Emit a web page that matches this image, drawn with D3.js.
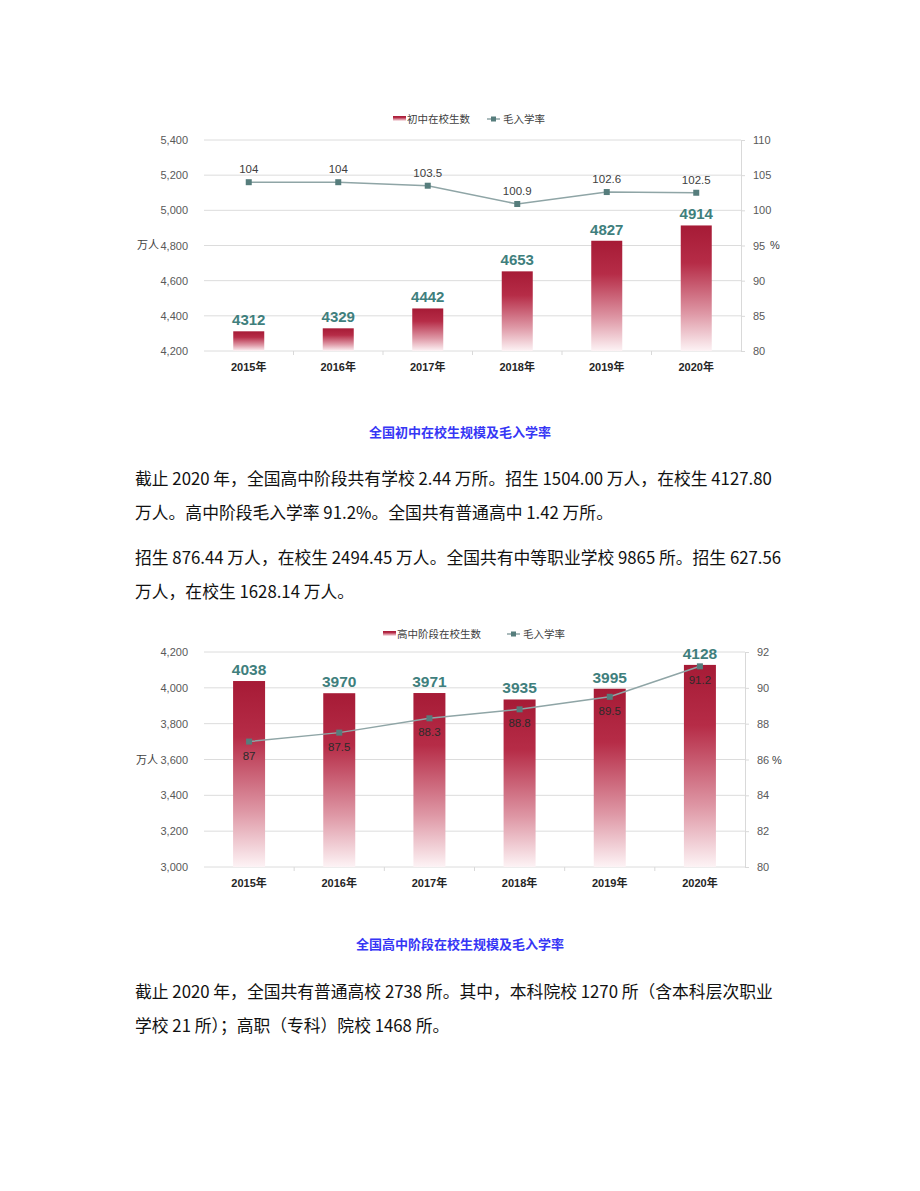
<!DOCTYPE html>
<html><head><meta charset="utf-8">
<script src="https://cdn.jsdelivr.net/npm/d3@7"></script>
<style>
html,body{margin:0;padding:0;background:#fff;}
svg{display:block;}
</style></head>
<body>
<svg id="page" width="920" height="1191"></svg>
<script>
const years = ['2015年','2016年','2017年','2018年','2019年','2020年'];
const juniorEnroll = [4312,4329,4442,4653,4827,4914];
const juniorRate = [104,104,103.5,100.9,102.6,102.5];
const seniorEnroll = [4038,3970,3971,3935,3995,4128];
const seniorRate = [87,87.5,88.3,88.8,89.5,91.2];
const leftTicks1 = [4200,4400,4600,4800,5000,5200,5400];
const rightTicks1 = [80,85,90,95,100,105,110];
const leftTicks2 = [3000,3200,3400,3600,3800,4000,4200];
const rightTicks2 = [80,82,84,86,88,90,92];
const legend1 = ['初中在校生数','毛入学率'];
const legend2 = ['高中阶段在校生数','毛入学率'];
const captions = ['全国初中在校生规模及毛入学率','全国高中阶段在校生规模及毛入学率'];
const para1 = ['截止 2020 年，全国高中阶段共有学校 2.44 万所。招生 1504.00 万人，在校生 4127.80','万人。高中阶段毛入学率 91.2%。全国共有普通高中 1.42 万所。'];
const para2 = ['招生 876.44 万人，在校生 2494.45 万人。全国共有中等职业学校 9865 所。招生 627.56','万人，在校生 1628.14 万人。'];
const para3 = ['截止 2020 年，全国共有普通高校 2738 所。其中，本科院校 1270 所（含本科层次职业','学校 21 所）；高职（专科）院校 1468 所。'];

const svg = d3.select('#page');
const FONT = 'Arial, "Liberation Sans", "Noto Sans CJK SC", sans-serif';
const CJK = '"Noto Sans CJK SC", sans-serif';

const defs = svg.append('defs');
const grad = defs.append('linearGradient').attr('id','barGrad').attr('x1',0).attr('y1',0).attr('x2',0).attr('y2',1);
grad.append('stop').attr('offset',0).attr('stop-color','#a61b36');
grad.append('stop').attr('offset',0.3).attr('stop-color','#b62c47');
grad.append('stop').attr('offset',0.7).attr('stop-color','#de97a5');
grad.append('stop').attr('offset',1).attr('stop-color','#fdf3f5');

function chart(o){
  const g = svg.append('g');
  const x = d3.scaleBand().domain(o.cats).range([o.x0,o.x1]);
  const yL = d3.scaleLinear().domain([o.lt[0],o.lt[o.lt.length-1]]).range([o.y1,o.y0]);
  const yR = d3.scaleLinear().domain([o.rt[0],o.rt[o.rt.length-1]]).range([o.y1,o.y0]);
  g.append('g').selectAll('line').data(o.lt).join('line')
    .attr('x1',o.x0).attr('x2',o.x1).attr('y1',d=>yL(d)).attr('y2',d=>yL(d))
    .attr('stroke','#dcdcdc').attr('stroke-width',1);
  const la = g.append('g').attr('transform',`translate(${o.lx},0)`)
    .call(d3.axisLeft(yL).tickValues(o.lt).tickSize(0).tickPadding(0).tickFormat(d3.format(',')));
  la.select('.domain').remove();
  la.selectAll('text').attr('font-family',FONT).attr('font-size',11).attr('fill','#595959');
  const ra = g.append('g').attr('transform',`translate(${o.x1},0)`)
    .call(d3.axisRight(yR).tickValues(o.rt).tickSize(4).tickPadding(o.rpad).tickSizeOuter(0));
  ra.select('.domain').attr('stroke','#d9d9d9');
  ra.selectAll('.tick line').attr('stroke','#d9d9d9');
  ra.selectAll('text').attr('font-family',FONT).attr('font-size',11).attr('fill','#595959');
  const xa = g.append('g');
  xa.selectAll('line').data(o.cats.slice(1)).join('line')
    .attr('x1',d=>x(d)).attr('x2',d=>x(d)).attr('y1',o.y1).attr('y2',o.y1+4).attr('stroke','#d9d9d9');
  xa.selectAll('text').data(o.cats).join('text')
    .attr('x',d=>x(d)+x.bandwidth()/2).attr('y',o.xly).attr('dy','0.35em').attr('text-anchor','middle')
    .attr('font-family',FONT).attr('font-size',11).attr('font-weight','bold').attr('fill','#262626')
    .text(d=>d);
  g.append('text').attr('x',o.ux).attr('y',o.uy).attr('dy','0.35em').attr('font-family',CJK).attr('font-size',11).attr('fill','#404040').text('万人');
  g.append('text').attr('x',o.px).attr('y',o.uy).attr('dy','0.35em').attr('font-family',FONT).attr('font-size',11).attr('fill','#404040').text('%');
  const bw = o.bw;
  g.append('g').selectAll('rect').data(o.vals).join('rect')
    .attr('x',(d,i)=>x(o.cats[i])+x.bandwidth()/2-bw/2).attr('width',bw)
    .attr('y',d=>yL(d)).attr('height',d=>o.y1-yL(d)).attr('fill','url(#barGrad)');
  g.append('g').selectAll('text').data(o.vals).join('text')
    .attr('x',(d,i)=>x(o.cats[i])+x.bandwidth()/2).attr('y',d=>yL(d)-6)
    .attr('text-anchor','middle').attr('font-family',FONT).attr('font-size',o.bfs).attr('font-weight','bold')
    .attr('fill','#3f7f7d').text(d=>d);
  const line = d3.line().x((d,i)=>x(o.cats[i])+x.bandwidth()/2).y(d=>yR(d));
  g.append('path').datum(o.rates).attr('d',line).attr('fill','none').attr('stroke','#8fa5a6').attr('stroke-width',1.5);
  g.append('g').selectAll('rect').data(o.rates).join('rect')
    .attr('x',(d,i)=>x(o.cats[i])+x.bandwidth()/2-3).attr('y',d=>yR(d)-3).attr('width',6).attr('height',6)
    .attr('fill','#567d7c');
  g.append('g').selectAll('text').data(o.rates).join('text')
    .attr('x',(d,i)=>x(o.cats[i])+x.bandwidth()/2).attr('y',d=>yR(d)+o.rly)
    .attr('text-anchor','middle').attr('font-family',FONT).attr('font-size',11.5)
    .attr('fill',o.rlc).text(d=>d);
  const lg = g.append('g');
  lg.append('rect').attr('x',o.legX).attr('y',o.legY-3).attr('width',13).attr('height',5).attr('fill','url(#barGrad)');
  lg.append('text').attr('x',o.legX+14).attr('y',o.legY).attr('dy','0.35em').attr('font-family',CJK).attr('font-size',10.5).attr('fill','#404040').text(o.leg[0]);
  lg.append('line').attr('x1',o.leg2X).attr('x2',o.leg2X+13).attr('y1',o.legY).attr('y2',o.legY).attr('stroke','#8fa5a6').attr('stroke-width',1.5);
  lg.append('rect').attr('x',o.leg2X+4).attr('y',o.legY-2.5).attr('width',5).attr('height',5).attr('fill','#567d7c');
  lg.append('text').attr('x',o.leg2X+16).attr('y',o.legY).attr('dy','0.35em').attr('font-family',CJK).attr('font-size',10.5).attr('fill','#404040').text(o.leg[1]);
}

chart({cats:years, vals:juniorEnroll, rates:juniorRate, lt:leftTicks1, rt:rightTicks1,
  x0:204, x1:741, y0:140, y1:351, lx:188, rpad:8, xly:367, ux:137, uy:245, px:770,
  bw:31, bfs:15, rly:-9, rlc:'#404040', leg:legend1, legX:393, leg2X:487, legY:119});
chart({cats:years, vals:seniorEnroll, rates:seniorRate, lt:leftTicks2, rt:rightTicks2,
  x0:204, x1:745, y0:652, y1:867, lx:188, rpad:8, xly:883, ux:136, uy:760, px:772,
  bw:32, bfs:15.5, rly:18, rlc:'#2b2b2b', leg:legend2, legX:383, leg2X:507, legY:634});

[[captions[0],432],[captions[1],944]].forEach(([t,y])=>{
  svg.append('text').attr('x',460).attr('y',y).attr('dy','0.35em').attr('text-anchor','middle')
    .attr('font-family',CJK).attr('font-size',13).attr('font-weight','bold').attr('fill','#3636f5').text(t);
});
[[para1,479],[para2,558],[para3,992]].forEach(([lines,y])=>{
  lines.forEach((t,i)=>{
    svg.append('text').attr('x',135).attr('y',y+i*34).attr('dy','0.35em')
      .attr('font-family',CJK).attr('font-size',16.8).attr('fill','#111').text(t);
  });
});
</script>
</body></html>
